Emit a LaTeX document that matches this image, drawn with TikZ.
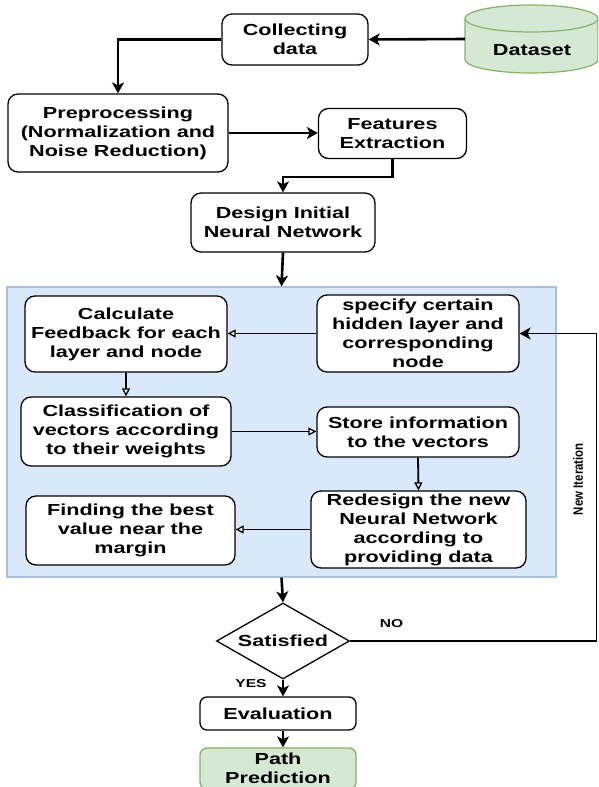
\documentclass[tikz,border=0pt]{standalone}
\usepackage{fontspec}
\usetikzlibrary{arrows.meta,shapes.geometric,calc}
\newfontfamily\lblfont[FakeStretch=1.35]{Liberation Sans}
\newfontfamily\sidefont[FakeStretch=0.85]{Liberation Sans}
\definecolor{greenfill}{HTML}{D5E8D4}
\definecolor{greenline}{HTML}{82B366}
\definecolor{bluefill}{HTML}{DAE8FC}
\definecolor{blueline}{HTML}{A9BFDC}
\tikzset{
  txt/.style={font=\lblfont\bfseries\fontsize{16}{19}\selectfont, align=center, inner sep=1pt},
  smalltxt/.style={font=\lblfont\bfseries\fontsize{11.5}{13}\selectfont, inner sep=0pt},
  procbox/.style={txt, draw=black, line width=1.3pt, fill=white, rounded corners=10pt},
  mainarrow/.style={line width=2.6pt, -{Stealth[length=11pt,width=12pt,inset=3pt]}},
  openarrow/.style={line width=1.8pt, -{Triangle[length=8pt,width=8pt,fill=white,line width=1.3pt]}},
  thinarrow/.style={line width=1.8pt, -{Stealth[length=11pt,width=12pt,inset=3pt]}},
}
\begin{document}
\begin{tikzpicture}[x=1pt,y=-1pt]
\useasboundingbox (0,0) rectangle (598,787);
\clip (0,0) rectangle (598,787);

% processing panel
\node[draw=blueline, fill=bluefill, line width=1.2pt, minimum width=549pt, minimum height=290pt, inner sep=0pt] (panel) at (281.5,432) {};

% database cylinder
\filldraw[fill=greenfill, draw=greenline, line width=1.2pt]
  (465,18.5) -- (465,59.5) arc (180:360:66.5pt and 13.5pt) -- (598,18.5) arc (0:180:66.5pt and 13.5pt) -- cycle;
\draw[greenline, line width=1.2pt] (465,18.5) arc (180:360:66.5pt and 13.5pt);
\node[minimum width=133pt, minimum height=68pt, inner sep=0pt] (dataset) at (531.5,39) {};
\node[txt] (datasettext) at (532,50) {Dataset};

% boxes above the panel
\node[procbox, minimum width=146pt, minimum height=51pt] (collect) at (295,39.5) {Collecting\\data};
\node[procbox, minimum width=220pt, minimum height=78pt] (prep) at (118,133) {Preprocessing\\(Normalization and\\Noise Reduction)};
\node[procbox, minimum width=148pt, minimum height=50pt] (feat) at (392.5,133.5) {Features\\Extraction};
\node[procbox, minimum width=184pt, minimum height=59pt] (design) at (283,222.5) {Design Initial\\Neural Network};

% boxes inside the panel
\node[procbox, minimum width=202pt, minimum height=76pt] (calc) at (126,334) {Calculate\\Feedback for each\\layer and node};
\node[procbox, minimum width=202pt, minimum height=77pt] (spec) at (418,333.5) {specify certain\\hidden layer and\\corresponding\\node};
\node[procbox, minimum width=210pt, minimum height=69pt] (class) at (126,431.5) {Classification of\\vectors according\\to their weights};
\node[procbox, minimum width=202pt, minimum height=50pt] (store) at (418,432) {Store information\\to the vectors};
\node[procbox, minimum width=215pt, minimum height=77pt] (redesign) at (418.5,529.5) {Redesign the new\\Neural Network\\according to\\providing data};
\node[procbox, minimum width=209pt, minimum height=69pt] (find) at (130.5,530.5) {Finding the best\\value near the\\margin};

% decision and final steps
\node[txt, draw=black, line width=1.3pt, fill=white, diamond, aspect=1.75, minimum width=133pt, minimum height=76pt, inner sep=0pt] (sat) at (283,641) {Satisfied};
\node[procbox, minimum width=156pt, minimum height=33pt, rounded corners=7pt] (eval) at (278,713.5) {Evaluation};
\node[procbox, draw=greenline, fill=greenfill, minimum width=156pt, minimum height=41pt, rounded corners=7pt] (pathpred) at (278,768.5) {Path\\Prediction};

% labels
\node[smalltxt] (no) at (391.5,623.5) {NO};
\node[smalltxt] (yes) at (251,683.5) {YES};
\node[font=\sidefont\bfseries\fontsize{13.5}{15}\selectfont, rotate=90, inner sep=0pt] (newit) at (578,479) {New Iteration};
\coordinate (loopcorner) at (596.5,641);

% connectors
\draw[mainarrow] (dataset.west) -- (collect.east);
\draw[mainarrow] (collect.west) -| (prep.north);
\draw[mainarrow] (prep.east) -- (prep.east -| feat.west);
\draw[mainarrow] (feat.south) -- ++(0,18) -| (design.north);
\draw[mainarrow] (design.south) -- (panel.north);

\draw[openarrow] (spec.west) -- (spec.west -| calc.east);
\draw[openarrow] (calc.south) -- (class.north);
\draw[openarrow] (class.east) -- (class.east -| store.west);
\draw[openarrow] (store.south) -- (redesign.north);
\draw[openarrow] (redesign.west) -- (redesign.west -| find.east);

\draw[mainarrow] (panel.south) -- (sat.north);
\draw[thinarrow] (sat.east) -- (loopcorner) |- (spec.east);
\draw[mainarrow] (sat.south) -- (sat.south |- eval.north);
\draw[mainarrow] (eval.south -| sat.south) -- (pathpred.north -| sat.south);
\end{tikzpicture}
\end{document}
